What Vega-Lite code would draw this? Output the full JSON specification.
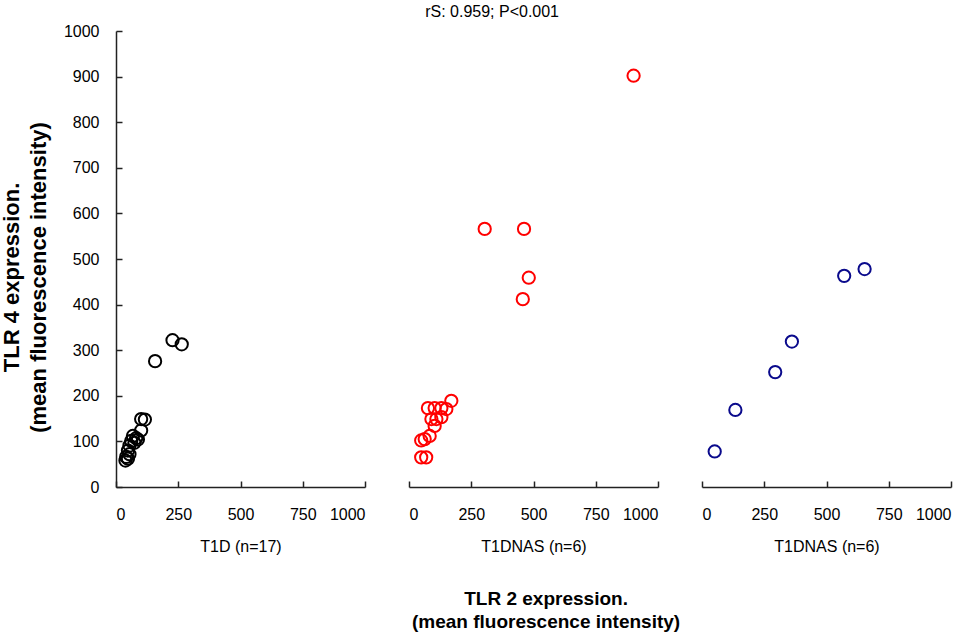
{
  "$schema": "https://vega.github.io/schema/vega-lite/v6.json",
  "background": "white",
  "padding": {"left": 0, "top": 4, "right": 20, "bottom": 0},
  "datasets": {
    "pts": [
      {"panel": "T1D", "tlr2": 227, "tlr4": 322},
      {"panel": "T1D", "tlr2": 264, "tlr4": 313},
      {"panel": "T1D", "tlr2": 157, "tlr4": 276},
      {"panel": "T1D", "tlr2": 101, "tlr4": 149},
      {"panel": "T1D", "tlr2": 116, "tlr4": 148},
      {"panel": "T1D", "tlr2": 101, "tlr4": 124},
      {"panel": "T1D", "tlr2": 68, "tlr4": 112},
      {"panel": "T1D", "tlr2": 81, "tlr4": 107},
      {"panel": "T1D", "tlr2": 88, "tlr4": 104},
      {"panel": "T1D", "tlr2": 61, "tlr4": 101},
      {"panel": "T1D", "tlr2": 74, "tlr4": 97},
      {"panel": "T1D", "tlr2": 54, "tlr4": 91},
      {"panel": "T1D", "tlr2": 48, "tlr4": 80},
      {"panel": "T1D", "tlr2": 54, "tlr4": 72},
      {"panel": "T1D", "tlr2": 48, "tlr4": 62},
      {"panel": "T1D", "tlr2": 41, "tlr4": 66},
      {"panel": "T1D", "tlr2": 38, "tlr4": 58},
      {"panel": "NAS", "tlr2": 902, "tlr4": 902},
      {"panel": "NAS", "tlr2": 304, "tlr4": 566},
      {"panel": "NAS", "tlr2": 462, "tlr4": 566},
      {"panel": "NAS", "tlr2": 481, "tlr4": 459},
      {"panel": "NAS", "tlr2": 457, "tlr4": 412},
      {"panel": "NAS", "tlr2": 170, "tlr4": 189},
      {"panel": "NAS", "tlr2": 76, "tlr4": 173},
      {"panel": "NAS", "tlr2": 103, "tlr4": 173},
      {"panel": "NAS", "tlr2": 130, "tlr4": 173},
      {"panel": "NAS", "tlr2": 150, "tlr4": 171},
      {"panel": "NAS", "tlr2": 90, "tlr4": 149},
      {"panel": "NAS", "tlr2": 110, "tlr4": 149},
      {"panel": "NAS", "tlr2": 130, "tlr4": 153},
      {"panel": "NAS", "tlr2": 103, "tlr4": 134},
      {"panel": "NAS", "tlr2": 83, "tlr4": 112},
      {"panel": "NAS", "tlr2": 63, "tlr4": 105},
      {"panel": "NAS", "tlr2": 49, "tlr4": 102},
      {"panel": "NAS", "tlr2": 49, "tlr4": 65},
      {"panel": "NAS", "tlr2": 69, "tlr4": 65},
      {"panel": "NAS2", "tlr2": 51, "tlr4": 78},
      {"panel": "NAS2", "tlr2": 134, "tlr4": 169},
      {"panel": "NAS2", "tlr2": 294, "tlr4": 252},
      {"panel": "NAS2", "tlr2": 361, "tlr4": 319},
      {"panel": "NAS2", "tlr2": 571, "tlr4": 463},
      {"panel": "NAS2", "tlr2": 653, "tlr4": 478}
    ]
  },
  "title": {
    "text": ["TLR 2 expression.", "(mean fluorescence intensity)"],
    "orient": "bottom",
    "anchor": "middle",
    "fontSize": 19,
    "fontWeight": "bold",
    "font": "Liberation Sans",
    "color": "black",
    "lineHeight": 23,
    "offset": 36,
    "dx": 70
  },
  "vconcat": [
    {
      "title": {
        "text": "rS: 0.959; P<0.001",
        "anchor": "middle",
        "fontSize": 16,
        "fontWeight": "normal",
        "font": "Liberation Sans",
        "color": "black",
        "offset": 3,
        "dx": 16
      },
      "spacing": 42,
      "hconcat": [
        {
          "width": 249,
          "height": 456,
          "data": {"name": "pts"},
          "transform": [{"filter": "datum.panel === 'T1D'"}],
          "mark": {"type": "point", "shape": "circle", "filled": false, "size": 150, "strokeWidth": 2, "opacity": 1, "color": "black"},
          "encoding": {
            "x": {"field": "tlr2", "type": "quantitative", "title": "T1D (n=17)",
              "scale": {"domain": [0, 1000], "nice": false, "zero": true},
              "axis": {"values": [0, 250, 500, 750, 1000]}},
            "y": {"field": "tlr4", "type": "quantitative",
              "title": ["TLR 4 expression.", "(mean fluorescence intensity)"],
              "scale": {"domain": [0, 1000], "nice": false},
              "axis": {"values": [0, 100, 200, 300, 400, 500, 600, 700, 800, 900, 1000],
                "titleFontSize": 22, "titleFontWeight": "bold", "titleLineHeight": 27,
                "titlePadding": 13, "titleY": 246}}
          }
        },
        {
          "width": 249,
          "height": 456,
          "data": {"name": "pts"},
          "transform": [{"filter": "datum.panel === 'NAS'"}],
          "mark": {"type": "point", "shape": "circle", "filled": false, "size": 150, "strokeWidth": 2, "opacity": 1, "color": "#ff0000"},
          "encoding": {
            "x": {"field": "tlr2", "type": "quantitative", "title": "T1DNAS (n=6)",
              "scale": {"domain": [0, 1000], "nice": false},
              "axis": {"values": [0, 250, 500, 750, 1000]}},
            "y": {"field": "tlr4", "type": "quantitative", "axis": null,
              "scale": {"domain": [0, 1000], "nice": false}}
          }
        },
        {
          "width": 249,
          "height": 456,
          "data": {"name": "pts"},
          "transform": [{"filter": "datum.panel === 'NAS2'"}],
          "mark": {"type": "point", "shape": "circle", "filled": false, "size": 150, "strokeWidth": 2, "opacity": 1, "color": "#0a0a8c"},
          "encoding": {
            "x": {"field": "tlr2", "type": "quantitative", "title": "T1DNAS (n=6)",
              "scale": {"domain": [0, 1000], "nice": false},
              "axis": {"values": [0, 250, 500, 750, 1000]}},
            "y": {"field": "tlr4", "type": "quantitative", "axis": null,
              "scale": {"domain": [0, 1000], "nice": false}}
          }
        }
      ],
      "resolve": {"scale": {"x": "independent", "y": "shared"}}
    }
  ],
  "config": {
    "font": "Liberation Sans",
    "view": {"stroke": null},
    "axis": {
      "grid": false,
      "format": "d",
      "domainColor": "#222222",
      "domainWidth": 1.5,
      "tickColor": "#222222",
      "tickWidth": 1.5,
      "tickSize": -6,
      "labelFont": "Liberation Sans",
      "labelFontSize": 16,
      "labelColor": "black",
      "titleFont": "Liberation Sans",
      "titleColor": "black"
    },
    "axisX": {"labelPadding": 25, "titleFontSize": 16, "titleFontWeight": "normal", "titlePadding": 16},
    "axisY": {"labelPadding": 23}
  }
}
